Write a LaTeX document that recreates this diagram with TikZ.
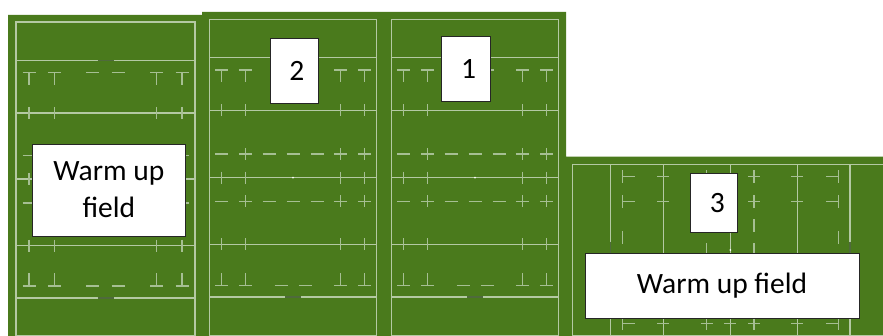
\documentclass[tikz,border=0pt]{standalone}
\usepackage{fontspec}
\setmainfont{Carlito}
\definecolor{turf}{HTML}{4A7A1C}
\definecolor{mainline}{HTML}{B4C9A3}
\definecolor{softline}{HTML}{A6BF93}
\definecolor{darkline}{HTML}{4F6A3C}
\tikzset{
  x=1pt,y=-1pt,
  turfarea/.style={fill=turf,draw=none},
  pitchline/.style={draw=mainline,line width=1.15pt},
  markline/.style={draw=softline,line width=1.05pt},
  goalmark/.style={draw=darkline,line width=1.3pt},
  label box/.style={draw=black!85,fill=white,line width=0.9pt,inner sep=0pt,align=center,font=\fontsize{29.5}{37}\selectfont},
}
% vertical pitch: #1 L, #2 R, #3 top, #4 goal1, #5 Trow, #6 line22, #7 rowU, #8 mid, #9 rowL
\newcommand{\vpitch}[9]{%
  \def\pL{#1}\def\pR{#2}\def\pT{#3}\def\pG{#4}\def\pTr{#5}\def\pV{#6}\def\pU{#7}\def\pM{#8}\def\pD{#9}\vpitchrest}
% \vpitchrest{line22b}{Tb}{goal2}{c1}{c2}{c3}{c4}{cx}{dash gap}
\newcommand{\vpitchrest}[9]{%
  \draw[pitchline] (\pL,\pT) rectangle (\pR,335.4);
  \foreach \yy in {\pG,\pV,\pM,#1,#3} \draw[pitchline] (\pL,\yy) -- (\pR,\yy);
  \foreach \yy in {\pG,#3} \draw[goalmark] (#8-8,\yy) -- (#8+8,\yy);
  \foreach \cc in {#4,#5,#6,#7} {
    \draw[markline] (\cc-6.5,\pTr) -- (\cc+6.5,\pTr) (\cc,\pTr) -- (\cc,\pTr+12.5);
    \draw[markline] (\cc-6.5,#2) -- (\cc+6.5,#2) (\cc,#2) -- (\cc,#2-12.5);
    \foreach \yy in {\pV,\pM,#1} \draw[markline] (\cc,\yy-6) -- (\cc,\yy+6);
  }
  \foreach \yy in {\pU,\pD} {
    \foreach \cc in {#4,#5,#6,#7,#8-24,#8,#8+24} \draw[markline] (\cc-6.5,\yy) -- (\cc+6.5,\yy);
    \foreach \cc in {#5,#6,#7} \draw[markline] (\cc,\yy-6) -- (\cc,\yy+6);
  }
  \foreach \cc in {#8-#9,#8+#9} \draw[markline] (\cc-6.5,\pTr) -- (\cc+6.5,\pTr) (\cc-6.5,#2) -- (\cc+6.5,#2);
  \fill[white] (#8,\pM) circle (1);
}
\begin{document}
\begin{tikzpicture}
\useasboundingbox (0,0) rectangle (883,336);
\fill[white] (0,0) rectangle (883,336);
% turf
\fill[turfarea] (8,15) -- (202,15) -- (202,12) -- (566,12) -- (566,156.7) -- (883,156.7) -- (883,336) -- (8,336) -- cycle;
% field A
\vpitch{16}{195}{22}{60.7}{72.3}{113}{155.7}{179}{203}{245.7}{286}{298}{29}{54.3}{156.7}{182}{105.5}{12.7}
% field B
\vpitch{209.3}{376.7}{19.3}{57.7}{70}{110.3}{154}{177.7}{201.3}{244.3}{285.3}{297}{221.7}{245.3}{340.3}{364.3}{293}{12}
% field C
\vpitch{391.3}{558.7}{19.3}{57.7}{70}{110.3}{154}{177.7}{201.3}{244.3}{285.3}{297}{403.7}{427.3}{522.3}{546.3}{475}{12}
% field D (rotated, runs off the right edge)
\draw[pitchline] (883,164.3) -- (572.7,164.3) -- (572.7,335.4) -- (883,335.4);
\foreach \xx in {610.7,663.3,730.3,797.3,850} \draw[pitchline] (\xx,164.3) -- (\xx,335.4);
\foreach \xx in {610.7,850} \draw[goalmark] (\xx,242) -- (\xx,258);
\foreach \yy in {176.7,201.7,298.8,323.7} {
  \draw[markline] (622.7,\yy-6.5) -- (622.7,\yy+6.5) (622.7,\yy) -- (635,\yy);
  \draw[markline] (838.3,\yy-6.5) -- (838.3,\yy+6.5) (838.3,\yy) -- (826,\yy);
  \foreach \xx in {663.3,730.3,797.3} \draw[markline] (\xx-6,\yy) -- (\xx+6,\yy);
  \foreach \xx in {706.7,754} \draw[markline] (\xx-6,\yy) -- (\xx+6,\yy) (\xx,\yy-6.5) -- (\xx,\yy+6.5);
}
\foreach \xx in {622.7,838.3} \foreach \yy in {238,262} \draw[markline] (\xx,\yy-6.5) -- (\xx,\yy+6.5);
\foreach \xx in {706.7,754} \foreach \yy in {226,250,274} \draw[markline] (\xx,\yy-6.5) -- (\xx,\yy+6.5);
\fill[white] (730.3,250) circle (1);
% labels
\node[label box,minimum width=152.3pt,minimum height=92pt] (warmA) at (108.9,190) {Warm up\\field};
\node[label box,minimum width=48.7pt,minimum height=64.3pt] (two) at (294.4,70.9) {\hspace*{5pt}2};
\node[label box,minimum width=48.6pt,minimum height=64.3pt] (one) at (466,68.9) {\hspace*{5pt}1};
\node[label box,minimum width=46.3pt,minimum height=58.3pt] (three) at (713.9,202.9) {\hspace*{7pt}3};
\node[label box,minimum width=274pt,minimum height=64.3pt] (warmB) at (722,285.9) {Warm up field};
\end{tikzpicture}
\end{document}
